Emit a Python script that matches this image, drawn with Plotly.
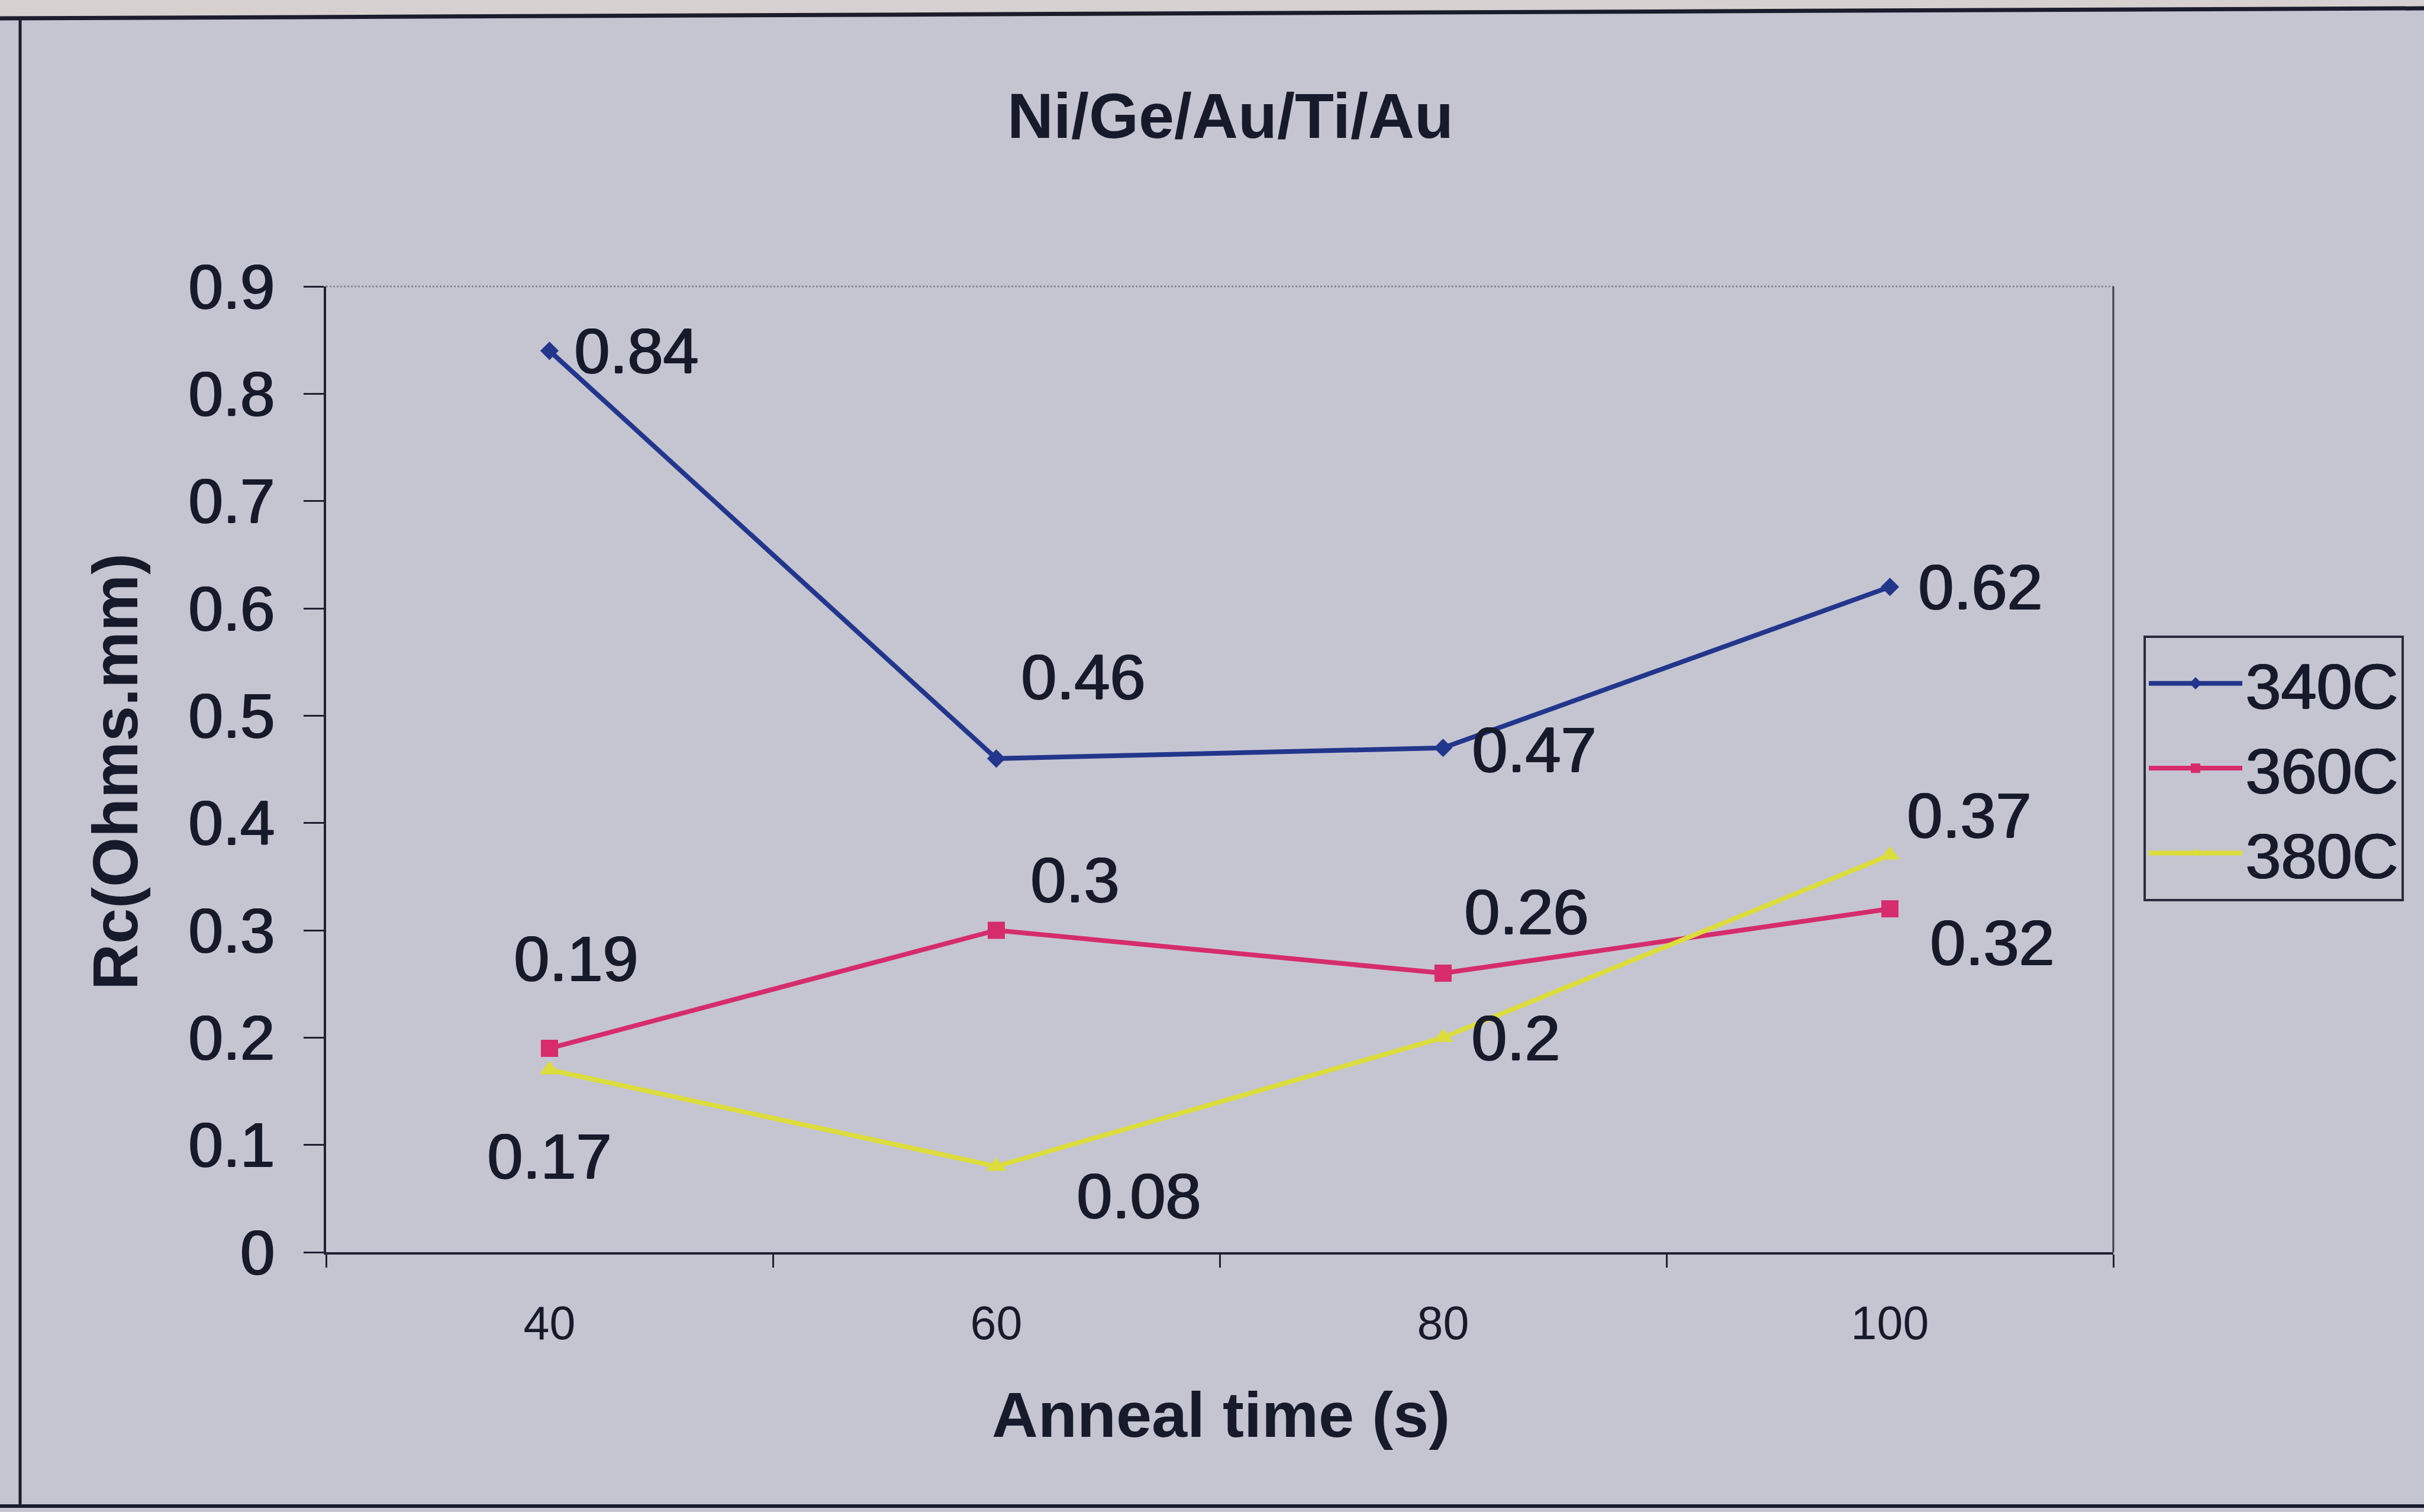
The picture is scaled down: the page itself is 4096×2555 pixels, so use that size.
import plotly.graph_objects as go

# Contact resistance vs anneal time for Ni/Ge/Au/Ti/Au contacts
anneal_time = ["40", "60", "80", "100"]
rc_340 = [0.84, 0.46, 0.47, 0.62]
rc_360 = [0.19, 0.30, 0.26, 0.32]
rc_380 = [0.17, 0.08, 0.20, 0.37]
series_names = ["340C", "360C", "380C"]
y_ticks = [0, 0.1, 0.2, 0.3, 0.4, 0.5, 0.6, 0.7, 0.8, 0.9]

# label offsets (px) for each data label, per series
offsets_340 = [(146, 0), (146, 138), (153, -3), (152, 0)]
offsets_360 = [(44, 152), (132, 86), (140, 104), (172, -57)]
offsets_380 = [(-1, -146), (240, -50), (122, 0), (133, 68)]

W_PX, H_PX = 4096, 2555
L, R, T, B = 551, 3571, 484, 2116
PW, PH = R - L, B - T

FONT = "Liberation Sans, Arial, sans-serif"
TXT = "#171a2b"
BG = "#c5c5d1"
HEAVY = f"1.6px 0px 0px {TXT}, -0.8px 0px 0px {TXT}, 0px 0.8px 0px {TXT}"


def px_x(px):
    return (px - L) / PW


def px_y(py):
    return (B - py) / PH


fig = go.Figure()

styles = [
    dict(color="#22368c", symbol="diamond", size=24),
    dict(color="#d62c6c", symbol="square", size=29),
    dict(color="#dcdc3c", symbol="triangle-up", size=30),
]
for name, vals, st in zip(series_names, [rc_340, rc_360, rc_380], styles):
    fig.add_trace(go.Scatter(
        x=anneal_time, y=vals, name=name, mode="lines+markers",
        line=dict(color=st["color"], width=8),
        marker=dict(color=st["color"], symbol=st["symbol"], size=st["size"],
                    line=dict(width=0)),
        cliponaxis=False,
    ))

annotations = []
for vals, offs in zip([rc_340, rc_360, rc_380], [offsets_340, offsets_360, offsets_380]):
    for i, (v, (dx, dy)) in enumerate(zip(vals, offs)):
        annotations.append(dict(
            x=i, y=v, xref="x", yref="y", text=f"{v:g}", showarrow=False,
            xshift=dx, yshift=dy, xanchor="center", yanchor="middle",
            font=dict(family=FONT, size=108, color=TXT, shadow=HEAVY),
        ))

# axis titles
annotations.append(dict(
    x=px_x(2063), y=px_y(2390), xref="paper", yref="paper",
    text="<b>Anneal time (s)</b>", showarrow=False,
    xanchor="center", yanchor="middle",
    font=dict(family=FONT, size=108, color=TXT),
))
annotations.append(dict(
    x=px_x(194), y=px_y(1304), xref="paper", yref="paper",
    text="<b>Rc(Ohms.mm)</b>", showarrow=False, textangle=-90,
    xanchor="center", yanchor="middle",
    font=dict(family=FONT, size=108, color=TXT),
))

shapes = [
    # paper edge above the chart frame
    dict(type="path", xref="paper", yref="paper",
         path=f"M {px_x(0)},{px_y(0)} L {px_x(W_PX)},{px_y(0)} L {px_x(W_PX)},{px_y(14)} L {px_x(0)},{px_y(31)} Z",
         fillcolor="#d6d1d0", line=dict(width=0), layer="below"),
    # chart frame: top, left, bottom
    dict(type="line", xref="paper", yref="paper",
         x0=px_x(0), y0=px_y(31), x1=px_x(W_PX), y1=px_y(14),
         line=dict(color="#1b1d2c", width=7)),
    dict(type="line", xref="paper", yref="paper",
         x0=px_x(34), y0=px_y(30), x1=px_x(34), y1=px_y(2545),
         line=dict(color="#1b1d2c", width=5)),
    dict(type="line", xref="paper", yref="paper",
         x0=px_x(0), y0=px_y(2545), x1=px_x(W_PX), y1=px_y(2545),
         line=dict(color="#1b1d2c", width=6)),
    # plot area border: top (dotted grey) and right
    dict(type="line", xref="paper", yref="paper", x0=0, y0=1, x1=1, y1=1,
         line=dict(color="#858594", width=3, dash="dot")),
    dict(type="line", xref="paper", yref="paper", x0=1, y0=0, x1=1, y1=1,
         line=dict(color="#3a3b4c", width=3)),
]

fig.update_layout(
    width=W_PX, height=H_PX,
    margin=dict(l=L, r=W_PX - R, t=T, b=H_PX - B, autoexpand=False),
    paper_bgcolor=BG, plot_bgcolor=BG,
    title=dict(text="<b>Ni/Ge/Au/Ti/Au</b>", x=2079 / W_PX, xanchor="center",
               y=1 - 195 / H_PX, yanchor="middle", xref="container", yref="container",
               font=dict(family=FONT, size=108, color=TXT)),
    font=dict(family=FONT, color=TXT),
    showlegend=True,
    legend=dict(
        x=px_x(3622), y=px_y(1074), xanchor="left", yanchor="top",
        bgcolor=BG, bordercolor="#2a2b3a", borderwidth=4,
        font=dict(family=FONT, size=108, color=TXT, shadow=HEAVY),
        itemwidth=158, tracegroupgap=0,
    ),
    xaxis=dict(
        type="category", categoryorder="array", categoryarray=anneal_time,
        range=[-0.5, 3.5], showgrid=False, zeroline=False,
        showline=True, linecolor="#1f2030", linewidth=4,
        ticks="outside", tickson="boundaries", ticklen=22, tickwidth=3,
        tickcolor="#1f2030", ticklabelstandoff=48,
        tickfont=dict(family=FONT, size=79, color=TXT),
    ),
    yaxis=dict(
        range=[0, 0.9], tickvals=y_ticks, ticktext=[f"{v:g}" for v in y_ticks],
        showgrid=False, zeroline=False,
        showline=True, linecolor="#1f2030", linewidth=4,
        ticks="outside", ticklen=34, tickwidth=3, tickcolor="#1f2030",
        ticklabelstandoff=28,
        tickfont=dict(family=FONT, size=105, color=TXT, shadow=HEAVY),
    ),
    annotations=annotations,
    shapes=shapes,
)

fig.write_html("out.html")
